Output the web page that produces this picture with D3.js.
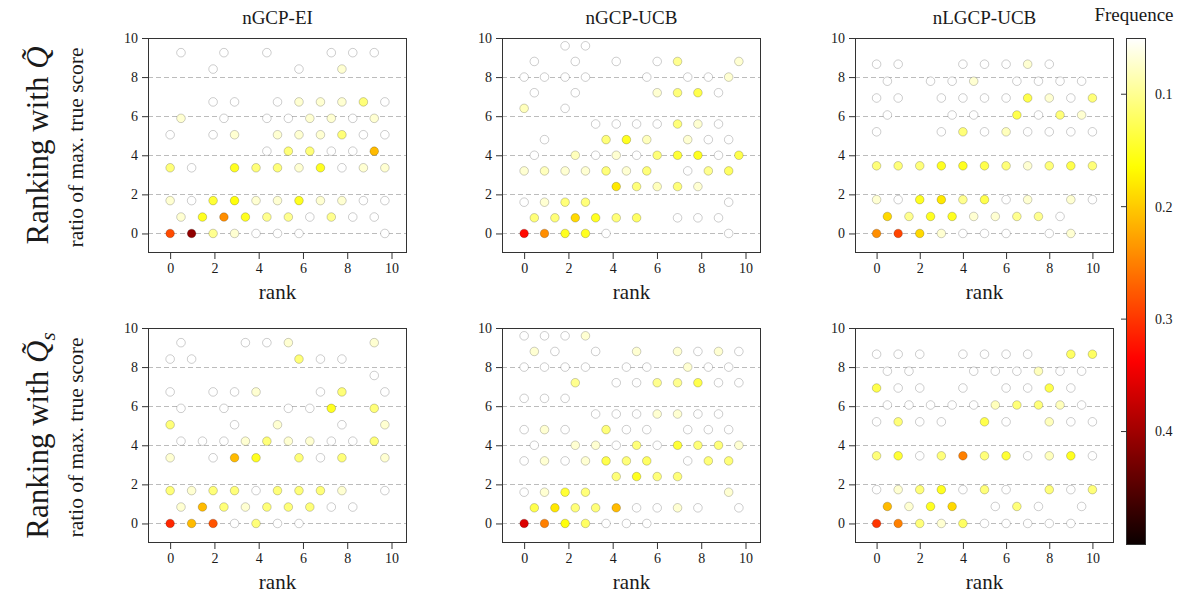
<!DOCTYPE html>
<html>
<head>
<meta charset="utf-8">
<script src="https://cdn.jsdelivr.net/npm/d3@7"></script>
<style>
  body { margin: 0; background: #fff; }
  svg text { font-family: "Liberation Serif", "Times New Roman", serif; fill: #1a1a1a; }
</style>
</head>
<body>
<svg id="chart" width="1192" height="599"></svg>
<script>
// ---- labels and ticks ----
const methods = ["nGCP-EI", "nGCP-UCB", "nLGCP-UCB"];
const rankTicks = [0, 2, 4, 6, 8, 10];
const ratioTicks = [0, 2, 4, 6, 8, 10];
const gridTicks = [0, 2, 4, 6, 8];
const freqTicks = [0.1, 0.2, 0.3, 0.4];
const freqRange = [0.05, 0.5];

// ---- hexbin cells: [rank, ratio of max. true score, frequence] ----
// Ranking with Q~, nGCP-EI
const eiQ = [
  [0,0,.285],[.97,0,.41],[1.94,0,.10],[2.91,0,.07],[3.88,0,.05],[4.85,0,.05],[5.82,0,.05],[9.70,0,.05],
  [.49,.84,.07],[1.46,.84,.15],[2.43,.84,.24],[3.40,.84,.15],[4.37,.84,.10],[5.34,.84,.10],[6.31,.84,.05],[7.28,.84,.10],[8.25,.84,.05],[9.22,.84,.05],
  [0,1.68,.07],[.97,1.68,.05],[1.94,1.68,.14],[2.91,1.68,.16],[3.88,1.68,.07],[4.85,1.68,.07],[5.82,1.68,.15],[6.79,1.68,.07],[7.76,1.68,.07],[8.73,1.68,.05],[9.70,1.68,.05],
  [0,3.36,.11],[.97,3.36,.05],[2.91,3.36,.15],[3.88,3.36,.11],[4.85,3.36,.11],[5.82,3.36,.07],[6.79,3.36,.15],[7.76,3.36,.05],[8.73,3.36,.07],[9.70,3.36,.07],
  [4.37,4.21,.05],[5.34,4.21,.11],[6.31,4.21,.11],[7.28,4.21,.05],[8.25,4.21,.05],[9.22,4.21,.21],
  [0,5.05,.05],[1.94,5.05,.05],[2.91,5.05,.07],[4.85,5.05,.07],[5.82,5.05,.07],[6.79,5.05,.07],[7.76,5.05,.11],[8.73,5.05,.05],[9.70,5.05,.05],
  [.49,5.89,.07],[2.43,5.89,.05],[4.37,5.89,.05],[5.34,5.89,.05],[6.31,5.89,.07],[7.28,5.89,.07],[8.25,5.89,.05],[9.22,5.89,.07],
  [1.94,6.73,.05],[2.91,6.73,.05],[4.85,6.73,.05],[5.82,6.73,.07],[6.79,6.73,.07],[7.76,6.73,.07],[8.73,6.73,.11],[9.70,6.73,.05],
  [1.94,8.41,.05],[5.82,8.41,.05],[7.76,8.41,.07],
  [.49,9.25,.05],[2.43,9.25,.05],[4.37,9.25,.05],[7.28,9.25,.05],[8.25,9.25,.05],[9.22,9.25,.05]
];
// Ranking with Q~, nGCP-UCB
const ucbQ = [
  [0,0,.33],[.92,0,.24],[1.85,0,.15],[2.77,0,.15],[3.70,0,.05],[9.24,0,.05],
  [.46,.8,.11],[1.39,.8,.11],[2.31,.8,.19],[3.23,.8,.15],[4.16,.8,.11],[5.08,.8,.12],[6.93,.8,.05],[7.85,.8,.05],[8.78,.8,.05],
  [0,1.6,.05],[.92,1.6,.07],[1.85,1.6,.11],[2.77,1.6,.11],[9.24,1.6,.05],
  [4.16,2.4,.18],[5.08,2.4,.11],[6.01,2.4,.08],[6.93,2.4,.11],[7.85,2.4,.07],
  [0,3.2,.07],[.92,3.2,.08],[1.85,3.2,.07],[2.77,3.2,.07],[3.70,3.2,.11],[4.62,3.2,.07],[5.54,3.2,.11],[7.39,3.2,.05],[8.32,3.2,.10],[9.24,3.2,.12],
  [.46,4,.05],[2.31,4,.08],[3.23,4,.05],[4.16,4,.07],[5.08,4,.05],[6.01,4,.11],[6.93,4,.14],[7.85,4,.15],[8.78,4,.05],[9.70,4,.13],
  [.92,4.8,.05],[3.70,4.8,.11],[4.62,4.8,.15],[5.54,4.8,.08],[7.39,4.8,.07],[8.32,4.8,.05],[9.24,4.8,.05],
  [3.23,5.6,.05],[4.16,5.6,.05],[5.08,5.6,.05],[6.01,5.6,.05],[6.93,5.6,.11],[7.85,5.6,.07],[8.78,5.6,.05],
  [0,6.4,.08],[1.85,6.4,.05],
  [.46,7.2,.05],[2.31,7.2,.05],[6.01,7.2,.07],[6.93,7.2,.11],[7.85,7.2,.13],[8.78,7.2,.05],
  [0,8,.05],[.92,8,.05],[1.85,8,.05],[2.77,8,.05],[5.54,8,.05],[7.39,8,.05],[8.32,8,.05],[9.24,8,.07],
  [.46,8.8,.05],[2.31,8.8,.05],[4.16,8.8,.05],[6.01,8.8,.05],[6.93,8.8,.10],[9.70,8.8,.07],
  [1.85,9.6,.05],[2.77,9.6,.05]
];
// Ranking with Q~, nLGCP-UCB
const lgQ = [
  [0,0,.24],[1,0,.29],[2,0,.19],[3,0,.07],[4,0,.05],[5,0,.05],[6,0,.05],[8,0,.05],[9,0,.07],
  [.5,.87,.19],[1.5,.87,.10],[2.5,.87,.15],[3.5,.87,.15],[4.5,.87,.07],[5.5,.87,.07],[6.5,.87,.10],[7.5,.87,.10],[8.5,.87,.05],
  [0,1.73,.07],[1,1.73,.05],[2,1.73,.15],[3,1.73,.18],[4,1.73,.10],[5,1.73,.13],[6,1.73,.05],[7,1.73,.07],[9,1.73,.07],[10,1.73,.05],
  [0,3.46,.11],[1,3.46,.11],[2,3.46,.11],[3,3.46,.15],[4,3.46,.15],[5,3.46,.13],[6,3.46,.11],[7,3.46,.07],[8,3.46,.11],[9,3.46,.13],[10,3.46,.11],
  [0,5.2,.05],[3,5.2,.05],[4,5.2,.11],[5,5.2,.05],[6,5.2,.08],[7,5.2,.05],[8,5.2,.05],[9,5.2,.05],[10,5.2,.05],
  [.5,6.06,.05],[3.5,6.06,.05],[4.5,6.06,.05],[6.5,6.06,.13],[7.5,6.06,.05],[8.5,6.06,.11],[9.5,6.06,.07],
  [0,6.93,.05],[1,6.93,.05],[3,6.93,.05],[4,6.93,.05],[5,6.93,.05],[6,6.93,.05],[7,6.93,.13],[8,6.93,.07],[9,6.93,.05],[10,6.93,.11],
  [.5,7.79,.05],[2.5,7.79,.05],[3.5,7.79,.05],[4.5,7.79,.07],[6.5,7.79,.05],[7.5,7.79,.05],[8.5,7.79,.05],[9.5,7.79,.05],
  [0,8.66,.05],[1,8.66,.05],[4,8.66,.05],[5,8.66,.05],[6,8.66,.05],[7,8.66,.07],[8,8.66,.05]
];
// Ranking with Q~s, nGCP-EI
const eiQs = [
  [0,0,.31],[.97,0,.21],[1.94,0,.28],[2.91,0,.05],[3.88,0,.11],[4.85,0,.05],[5.82,0,.05],
  [.49,.84,.07],[1.46,.84,.21],[2.43,.84,.11],[3.40,.84,.07],[4.37,.84,.11],[5.34,.84,.11],[6.31,.84,.11],[7.28,.84,.05],[8.25,.84,.05],
  [0,1.68,.11],[.97,1.68,.07],[1.94,1.68,.11],[2.91,1.68,.11],[3.88,1.68,.05],[4.85,1.68,.11],[5.82,1.68,.11],[6.79,1.68,.11],[7.76,1.68,.07],[9.70,1.68,.05],
  [0,3.36,.07],[1.94,3.36,.05],[2.91,3.36,.21],[3.88,3.36,.15],[5.82,3.36,.11],[6.79,3.36,.05],[7.76,3.36,.11],[9.70,3.36,.07],
  [.49,4.21,.05],[1.46,4.21,.05],[2.43,4.21,.05],[3.40,4.21,.07],[4.37,4.21,.11],[5.34,4.21,.07],[6.31,4.21,.07],[7.28,4.21,.05],[8.25,4.21,.05],[9.22,4.21,.11],
  [0,5.05,.11],[2.91,5.05,.05],[4.85,5.05,.07],[7.76,5.05,.05],[9.70,5.05,.07],
  [.49,5.89,.05],[2.43,5.89,.05],[5.34,5.89,.05],[6.31,5.89,.05],[7.28,5.89,.15],[9.22,5.89,.11],
  [0,6.73,.05],[1.94,6.73,.05],[2.91,6.73,.05],[3.88,6.73,.07],[6.79,6.73,.05],[7.76,6.73,.11],[9.70,6.73,.05],
  [9.22,7.57,.05],
  [0,8.41,.05],[.97,8.41,.05],[5.82,8.41,.11],[6.79,8.41,.05],[7.76,8.41,.05],
  [.49,9.25,.05],[3.40,9.25,.05],[4.37,9.25,.05],[5.34,9.25,.07],[9.22,9.25,.07]
];
// Ranking with Q~s, nGCP-UCB
const ucbQs = [
  [0,0,.36],[.92,0,.25],[1.85,0,.16],[2.77,0,.12],[3.70,0,.05],[4.62,0,.05],[5.54,0,.05],
  [.46,.8,.13],[1.39,.8,.18],[2.31,.8,.11],[3.23,.8,.11],[4.16,.8,.21],[5.08,.8,.05],[6.01,.8,.05],[6.93,.8,.07],[7.85,.8,.05],[9.70,.8,.05],
  [0,1.6,.05],[.92,1.6,.07],[1.85,1.6,.14],[2.77,1.6,.11],[9.24,1.6,.07],
  [4.16,2.4,.11],[5.08,2.4,.15],[6.01,2.4,.11],[6.93,2.4,.11],
  [0,3.2,.05],[.92,3.2,.07],[1.85,3.2,.05],[2.77,3.2,.07],[3.70,3.2,.13],[4.62,3.2,.11],[5.54,3.2,.12],[7.39,3.2,.05],[8.32,3.2,.11],[9.24,3.2,.11],
  [.46,4,.05],[2.31,4,.07],[3.23,4,.07],[4.16,4,.05],[5.08,4,.11],[6.01,4,.05],[6.93,4,.14],[7.85,4,.11],[8.78,4,.11],[9.70,4,.07],
  [0,4.8,.05],[.92,4.8,.07],[1.85,4.8,.05],[3.70,4.8,.11],[4.62,4.8,.05],[5.54,4.8,.05],[7.39,4.8,.05],[8.32,4.8,.05],[9.24,4.8,.05],
  [3.23,5.6,.05],[4.16,5.6,.05],[5.08,5.6,.05],[6.01,5.6,.07],[6.93,5.6,.07],[7.85,5.6,.05],[8.78,5.6,.05],
  [0,6.4,.05],[.92,6.4,.05],[1.85,6.4,.05],
  [2.31,7.2,.10],[4.16,7.2,.05],[5.08,7.2,.05],[6.01,7.2,.10],[6.93,7.2,.10],[7.85,7.2,.13],[8.78,7.2,.05],[9.70,7.2,.05],
  [0,8,.05],[.92,8,.05],[1.85,8,.05],[2.77,8,.05],[4.62,8,.05],[5.54,8,.05],[7.39,8,.07],[8.32,8,.05],[9.24,8,.05],
  [.46,8.8,.07],[1.39,8.8,.05],[3.23,8.8,.05],[5.08,8.8,.07],[6.93,8.8,.07],[7.85,8.8,.05],[8.78,8.8,.07],[9.70,8.8,.05],
  [0,9.6,.05],[.92,9.6,.05],[1.85,9.6,.05],[2.77,9.6,.07]
];
// Ranking with Q~s, nLGCP-UCB
const lgQs = [
  [0,0,.30],[1,0,.25],[2,0,.11],[3,0,.07],[4,0,.12],[5,0,.05],[6,0,.05],[7,0,.05],[8,0,.05],[9,0,.05],
  [.5,.87,.21],[1.5,.87,.07],[2.5,.87,.15],[3.5,.87,.19],[5.5,.87,.05],[6.5,.87,.11],[7.5,.87,.05],[9.5,.87,.05],
  [0,1.73,.05],[1,1.73,.07],[2,1.73,.11],[3,1.73,.15],[4,1.73,.05],[5,1.73,.11],[6,1.73,.05],[8,1.73,.11],[9,1.73,.05],[10,1.73,.11],
  [0,3.46,.11],[1,3.46,.14],[2,3.46,.05],[3,3.46,.11],[4,3.46,.25],[5,3.46,.11],[6,3.46,.14],[7,3.46,.05],[8,3.46,.08],[9,3.46,.15],[10,3.46,.05],
  [0,5.2,.05],[1,5.2,.11],[2,5.2,.05],[3,5.2,.05],[5,5.2,.13],[6,5.2,.05],[8,5.2,.08],[9,5.2,.05],[10,5.2,.05],
  [.5,6.06,.05],[1.5,6.06,.05],[2.5,6.06,.05],[3.5,6.06,.05],[4.5,6.06,.05],[5.5,6.06,.08],[6.5,6.06,.11],[7.5,6.06,.11],[8.5,6.06,.08],[9.5,6.06,.05],
  [0,6.93,.13],[1,6.93,.05],[2,6.93,.05],[4,6.93,.05],[6,6.93,.05],[7,6.93,.05],[8,6.93,.13],[9,6.93,.05],
  [.5,7.79,.05],[1.5,7.79,.05],[4.5,7.79,.05],[5.5,7.79,.05],[6.5,7.79,.05],[7.5,7.79,.08],[8.5,7.79,.05],[9.5,7.79,.05],
  [0,8.66,.05],[1,8.66,.05],[2,8.66,.05],[4,8.66,.05],[5,8.66,.05],[6,8.66,.05],[7,8.66,.05],[9,8.66,.12],[10,8.66,.12]
];

// ---- "hot" colormap, reversed: low frequence -> white, high -> black ----
function hot(s) {
  const r = s < 0.365079 ? 0.0416 + (1 - 0.0416) * s / 0.365079 : 1;
  const g = s < 0.365079 ? 0 : s < 0.746032 ? (s - 0.365079) / (0.746032 - 0.365079) : 1;
  const b = s < 0.746032 ? 0 : (s - 0.746032) / (1 - 0.746032);
  return d3.rgb(r * 255, g * 255, b * 255).formatHex();
}
const color = d3.scaleSequential(t => hot(1 - t)).domain(freqRange).clamp(true);

// ---- layout ----
const svg = d3.select("#chart");
const W = 259, H = 215;
const colX = [148, 502, 855];
const rowY = [38, 328];
const axisColor = "#333";

function styleAxis(g) {
  g.select(".domain").remove();
  g.selectAll(".tick line").attr("stroke", axisColor);
  g.selectAll(".tick text")
    .attr("font-family", null)
    .style("font-size", "14px")
    .attr("fill", "#1a1a1a");
  g.attr("font-family", null);
}

function drawPanel(data, col, row) {
  const x0 = colX[col], y0 = rowY[row];
  const x = d3.scaleLinear()
    .domain([-1, d3.max(data, d => d[0]) + 1])
    .range([x0, x0 + W]);
  const y = d3.scaleLinear().domain([-1, 10]).range([y0 + H, y0]);
  const g = svg.append("g");

  // dashed horizontal grid
  g.selectAll("line.grid").data(gridTicks).join("line")
    .attr("class", "grid")
    .attr("x1", x0).attr("x2", x0 + W)
    .attr("y1", d => Math.round(y(d)) + 0.5).attr("y2", d => Math.round(y(d)) + 0.5)
    .attr("stroke", "#bcbcbc").attr("stroke-width", 1)
    .attr("stroke-dasharray", "5,3");

  // hexbin centres coloured by frequence
  g.selectAll("circle").data(data).join("circle")
    .attr("cx", d => x(d[0]))
    .attr("cy", d => y(d[1]))
    .attr("r", 4.3)
    .attr("fill", d => color(d[2]))
    .attr("stroke", "rgba(0,0,0,0.22)")
    .attr("stroke-width", 0.9);

  // frame
  g.append("rect")
    .attr("x", x0 + 0.5).attr("y", y0 + 0.5)
    .attr("width", W - 1).attr("height", H - 1)
    .attr("fill", "none").attr("stroke", axisColor).attr("stroke-width", 1);

  // axes
  g.append("g").attr("transform", `translate(0,${y0 + H})`)
    .call(d3.axisBottom(x).tickValues(rankTicks).tickSize(6).tickPadding(4))
    .call(styleAxis);
  g.append("g").attr("transform", `translate(${x0},0)`)
    .call(d3.axisLeft(y).tickValues(ratioTicks).tickSize(6).tickPadding(4))
    .call(styleAxis);

  // x label
  g.append("text")
    .attr("x", x0 + W / 2).attr("y", y0 + H + 46)
    .attr("text-anchor", "middle")
    .style("font-size", "21px")
    .text("rank");

  if (row === 0) {
    g.append("text")
      .attr("x", x0 + W / 2).attr("y", 24)
      .attr("text-anchor", "middle")
      .style("font-size", "19px")
      .text(methods[col]);
  }
  if (col === 0) {
    g.append("text")
      .attr("transform", `translate(83,${y0 + H / 2 + 2}) rotate(-90)`)
      .attr("text-anchor", "middle")
      .style("font-size", "21.5px")
      .text("ratio of max. true score");
  }
}

const panels = [
  [eiQ, 0, 0], [ucbQ, 1, 0], [lgQ, 2, 0],
  [eiQs, 0, 1], [ucbQs, 1, 1], [lgQs, 2, 1]
];
panels.forEach(([d, c, r]) => drawPanel(d, c, r));

// ---- row headings ----
function rowHeading(cy, sub) {
  const t = svg.append("text")
    .attr("transform", `translate(48,${cy}) rotate(-90)`)
    .attr("text-anchor", "middle")
    .style("font-size", "31px");
  t.append("tspan").text("Ranking with ");
  t.append("tspan").style("font-style", "italic").text("Q\u0303");
  if (sub) {
    t.append("tspan").attr("dy", 7).style("font-size", "21px").style("font-style", "italic").text(sub);
  }
}
rowHeading(rowY[0] + H / 2, null);
rowHeading(rowY[1] + H / 2, "s");

// ---- colour bar ----
const cbX = 1126, cbW = 19, cbTop = 38, cbBottom = 544;
const defs = svg.append("defs");
const grad = defs.append("linearGradient")
  .attr("id", "freqGrad")
  .attr("x1", 0).attr("y1", 0).attr("x2", 0).attr("y2", 1);
d3.range(0, 1.0001, 0.01).forEach(t => {
  grad.append("stop")
    .attr("offset", t)
    .attr("stop-color", color(freqRange[0] + t * (freqRange[1] - freqRange[0])));
});
const cb = d3.scaleLinear().domain(freqRange).range([cbTop, cbBottom]);
svg.append("rect")
  .attr("x", cbX + 0.5).attr("y", cbTop + 0.5)
  .attr("width", cbW).attr("height", cbBottom - cbTop)
  .attr("fill", "url(#freqGrad)")
  .attr("stroke", axisColor).attr("stroke-width", 1);
const cbTicks = svg.append("g");
cbTicks.selectAll("line").data(freqTicks).join("line")
  .attr("x1", cbX - 5).attr("x2", cbX)
  .attr("y1", d => cb(d)).attr("y2", d => cb(d))
  .attr("stroke", axisColor);
cbTicks.selectAll("text").data(freqTicks).join("text")
  .attr("x", cbX + 29).attr("y", d => cb(d))
  .attr("dy", "0.35em")
  .style("font-size", "14px")
  .text(d => d3.format(".1f")(d));
svg.append("text")
  .attr("x", 1134).attr("y", 21)
  .attr("text-anchor", "middle")
  .style("font-size", "19px")
  .text("Frequence");
</script>
</body>
</html>
